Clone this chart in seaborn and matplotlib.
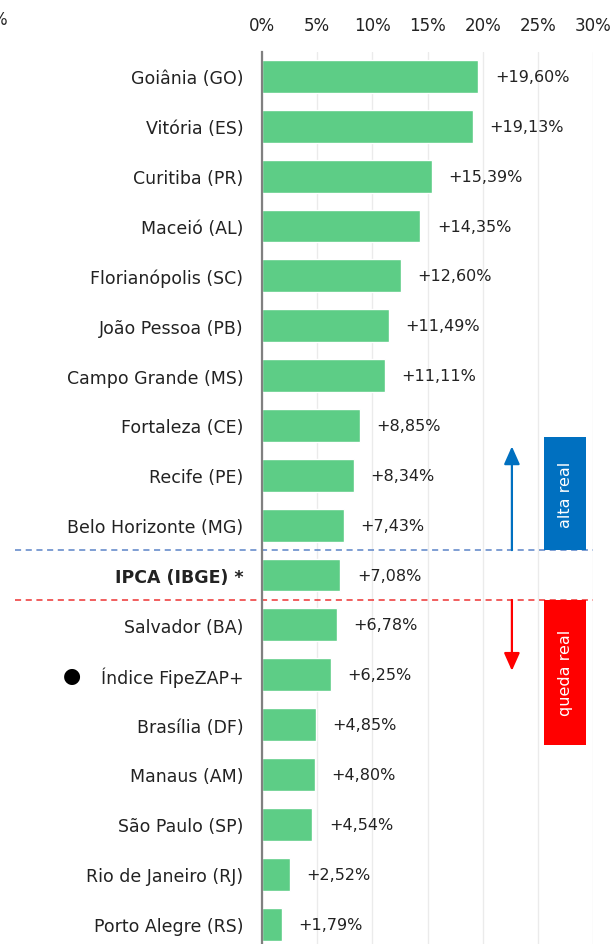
import matplotlib
matplotlib.use("Agg")
import matplotlib.pyplot as plt
import matplotlib.transforms as mtransforms
from matplotlib.patches import Rectangle
import seaborn as sns
import pandas as pd
import numpy as np

# ---- data ----
cities = ["Goiânia (GO)", "Vitória (ES)", "Curitiba (PR)", "Maceió (AL)",
          "Florianópolis (SC)", "João Pessoa (PB)", "Campo Grande (MS)",
          "Fortaleza (CE)", "Recife (PE)", "Belo Horizonte (MG)",
          "IPCA (IBGE) *", "Salvador (BA)", "Índice FipeZAP+", "Brasília (DF)",
          "Manaus (AM)", "São Paulo (SP)", "Rio de Janeiro (RJ)",
          "Porto Alegre (RS)"]
values = [19.60, 19.13, 15.39, 14.35, 12.60, 11.49, 11.11, 8.85, 8.34, 7.43,
          7.08, 6.78, 6.25, 4.85, 4.80, 4.54, 2.52, 1.79]
x_ticks = [0, 5, 10, 15, 20, 25, 30]
x_tick_labels = ["0%", "5%", "10%", "15%", "20%", "25%", "30%"]
ipca_label = "IPCA (IBGE) *"
fipezap_label = "Índice FipeZAP+"
alta_text = "alta real"
queda_text = "queda real"

df = pd.DataFrame({"cidade": cities, "valor": values})

sns.set_theme(style="white")
plt.rcParams["font.family"] = ["DejaVu Sans"]

BAR = "#5DCD86"
BLUE = "#0070C0"
RED = "#FF0000"

fig = plt.figure(figsize=(6.14, 9.45), dpi=100)
W, H = 614, 945
ax_left, ax_right = 262, 593
ax_top, ax_bot = 52.5, 950
ax = fig.add_axes([ax_left / W, 1 - ax_bot / H, (ax_right - ax_left) / W,
                   (ax_bot - ax_top) / H])

sns.barplot(data=df, x="valor", y="cidade", orient="h", color=BAR,
            saturation=1, width=0.66, ax=ax)

n = len(cities)
ax.set_xlim(0, 30)
ax.set_ylim(n - 0.5, -0.5)
ax.set_xlabel("")
ax.set_ylabel("")

# x axis on top
ax.xaxis.tick_top()
ax.set_xticks(x_ticks)
ax.set_xticklabels(x_tick_labels, fontsize=12, color="#222222")
ax.tick_params(axis="x", length=0, pad=12.5)
ax.grid(axis="x", color="#ebebeb", linewidth=1)
ax.set_axisbelow(True)

# y axis
ax.tick_params(axis="y", which="major", length=0, pad=13.5, labelsize=12.5,
               labelcolor="#222222")
ax.set_yticks(np.arange(-0.5, n, 1), minor=True)
ax.tick_params(axis="y", which="minor", direction="inout", length=7,
               width=1, color="#333333")
for lbl in ax.get_yticklabels():
    if lbl.get_text() == ipca_label:
        lbl.set_fontweight("bold")

for s in ["top", "right", "bottom"]:
    ax.spines[s].set_visible(False)
ax.spines["left"].set_color("#808080")
ax.spines["left"].set_linewidth(1.6)

# value labels
for i, v in enumerate(values):
    ax.annotate("+" + f"{v:.2f}".replace(".", ",") + "%", xy=(v, i),
                xytext=(12, 0), textcoords="offset points", ha="left",
                va="center", fontsize=11.5, color="#222222")

# dot before FipeZAP label
blend = mtransforms.blended_transform_factory(ax.transAxes, ax.transData)
idx_f = cities.index(fipezap_label)
ax.text((72 - ax_left) / (ax_right - ax_left), idx_f, "●", transform=blend,
        ha="center", va="center", fontsize=15, color="black", clip_on=False)

# dashed separator lines around IPCA
idx_i = cities.index(ipca_label)
x0 = (15 - ax_left) / (ax_right - ax_left)
ax.plot([x0, 1.0], [idx_i - 0.5, idx_i - 0.5], transform=blend, color="#5b84c8",
        lw=1.1, ls=(0, (4, 3)), clip_on=False)
ax.plot([x0, 1.0], [idx_i + 0.5, idx_i + 0.5], transform=blend, color="#ee3333",
        lw=1.1, ls=(0, (4, 3)), clip_on=False)

# arrows
ax.annotate("", xy=(22.65, idx_i - 2.58), xytext=(22.65, idx_i - 0.5),
            arrowprops=dict(arrowstyle="-|>,head_length=0.9,head_width=0.4",
                            color=BLUE, lw=1.6, shrinkA=0, shrinkB=0))
ax.annotate("", xy=(22.65, idx_i + 1.92), xytext=(22.65, idx_i + 0.5),
            arrowprops=dict(arrowstyle="-|>,head_length=0.9,head_width=0.4",
                            color=RED, lw=1.6, shrinkA=0, shrinkB=0))

# boxes
bx0, bx1 = 25.6, 29.4
ax.add_patch(Rectangle((bx0, idx_i - 0.5 - 2.27), bx1 - bx0, 2.27,
                       facecolor=BLUE, edgecolor="none", zorder=3))
ax.text((bx0 + bx1) / 2, idx_i - 0.5 - 2.27 / 2, alta_text, rotation=90,
        ha="center", va="center", color="white", fontsize=11.5, zorder=4)
ax.add_patch(Rectangle((bx0, idx_i + 0.5), bx1 - bx0, 2.9,
                       facecolor=RED, edgecolor="none", zorder=3))
ax.text((bx0 + bx1) / 2, idx_i + 0.5 + 2.9 / 2, queda_text, rotation=90,
        ha="center", va="center", color="white", fontsize=11.5, zorder=4)

# clipped "%" at the very top-left (cut off in the reference too)
fig.text(-0.014, 1 - 20 / H, "%", fontsize=12, color="#222222",
         ha="left", va="center")

fig.savefig("out.png", dpi=100)
